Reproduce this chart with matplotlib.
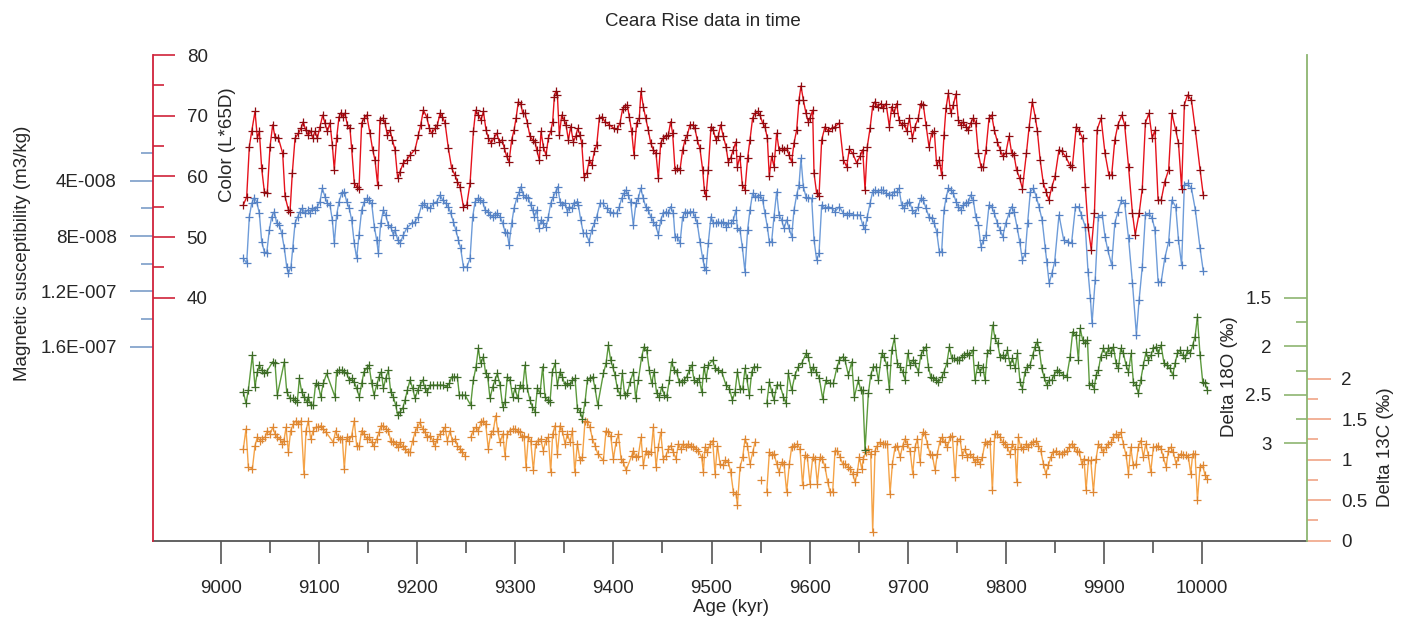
import numpy as np
import matplotlib
matplotlib.use("Agg")
import matplotlib.pyplot as plt

plt.rcParams['font.family'] = ['Liberation Sans', 'DejaVu Sans']

# ---------------- data ----------------
color_age = [9022.8, 9026.2, 9028.9, 9031.3, 9034.7, 9037.1, 9039.1, 9041.5, 9044.2, 9047.2,
             9050.0, 9052.7, 9055.1, 9058.5, 9062.9, 9065.3, 9068.7, 9070.4, 9072.7, 9075.5,
             9078.9, 9081.6, 9083.9, 9086.3, 9089.0, 9091.4, 9093.5, 9095.8, 9098.2, 9100.9,
             9103.7, 9106.0, 9108.4, 9111.1, 9113.5, 9115.5, 9117.9, 9120.3, 9122.3, 9124.7,
             9126.4, 9128.8, 9131.5, 9133.2, 9135.9, 9138.3, 9140.7, 9143.4, 9146.1, 9148.5,
             9151.9, 9154.6, 9157.0, 9159.7, 9162.1, 9164.8, 9167.2, 9169.6, 9172.3, 9174.7,
             9177.4, 9180.1, 9182.5, 9185.9, 9189.3, 9192.7, 9197.8, 9201.2, 9203.6, 9206.3,
             9209.7, 9212.4, 9214.8, 9218.2, 9220.6, 9223.3, 9225.7, 9228.4, 9231.8, 9235.2,
             9238.6, 9241.0, 9243.7, 9247.1, 9250.5, 9253.9, 9257.3, 9259.6, 9262.4, 9265.1,
             9267.5, 9270.2, 9272.6, 9275.3, 9278.3, 9281.0, 9283.8, 9286.5, 9288.9, 9291.2,
             9293.6, 9296.3, 9298.7, 9300.8, 9303.1, 9305.5, 9307.6, 9309.9, 9312.3, 9315.0,
             9317.7, 9320.1, 9321.8, 9324.5, 9326.2, 9328.6, 9331.3, 9333.7, 9336.1, 9338.1,
             9339.8, 9341.2, 9342.9, 9344.9, 9347.3, 9349.7, 9351.7, 9354.1, 9356.5, 9359.2,
             9361.6, 9363.6, 9366.0, 9367.7, 9370.1, 9372.8, 9375.5, 9377.9, 9380.6, 9383.0,
             9385.7, 9388.1, 9391.5, 9395.9, 9400.6, 9404.0, 9406.7, 9409.4, 9411.8, 9414.2,
             9416.2, 9418.6, 9421.0, 9423.7, 9426.4, 9428.1, 9430.5, 9432.9, 9435.6, 9438.0,
             9440.7, 9443.4, 9445.8, 9448.2, 9450.9, 9453.6, 9456.0, 9458.3, 9460.4, 9462.8,
             9465.1, 9467.9, 9470.6, 9473.0, 9475.3, 9478.1, 9480.8, 9483.1, 9485.5, 9488.2,
             9491.0, 9492.7, 9494.4, 9496.7, 9499.5, 9501.8, 9504.6, 9506.9, 9509.3, 9512.0,
             9514.8, 9517.1, 9519.5, 9522.2, 9524.9, 9526.3, 9529.0, 9531.4, 9534.1, 9536.8,
             9539.2, 9541.9, 9544.3, 9547.0, 9549.4, 9552.1, 9554.5, 9556.9, 9558.9, 9561.3,
             9563.7, 9566.4, 9568.8, 9571.5, 9573.9, 9576.6, 9579.0, 9581.7, 9584.1, 9586.8,
             9589.2, 9591.2, 9593.6, 9596.3, 9598.7, 9600.4, 9603.1, 9604.5, 9607.2, 9609.6,
             9612.3, 9615.7, 9619.1, 9622.5, 9625.9, 9630.3, 9634.4, 9637.8, 9640.5, 9643.9,
             9648.0, 9651.4, 9654.1, 9656.5, 9658.8, 9661.6, 9664.3, 9666.7, 9669.4, 9672.4,
             9675.2, 9677.9, 9681.3, 9683.7, 9686.0, 9688.7, 9691.1, 9693.8, 9696.6, 9698.9,
             9701.7, 9704.7, 9707.4, 9710.8, 9713.2, 9715.9, 9718.6, 9721.7, 9724.4, 9727.1,
             9729.5, 9732.2, 9734.6, 9737.0, 9739.0, 9741.4, 9743.8, 9746.5, 9749.2, 9751.6,
             9754.0, 9756.7, 9759.4, 9761.8, 9764.2, 9766.9, 9769.3, 9772.0, 9774.7, 9777.1,
             9779.8, 9782.9, 9785.6, 9788.3, 9791.4, 9794.1, 9796.8, 9799.9, 9803.3, 9806.0,
             9808.4, 9810.9, 9814.1, 9816.9, 9821.0, 9823.8, 9827.0, 9830.2, 9832.2, 9835.0,
             9838.2, 9841.0, 9843.8, 9847.0, 9850.2, 9854.2, 9857.0, 9861.0, 9865.0, 9867.8,
             9871.8, 9875.0, 9878.2, 9881.0, 9883.8, 9887.1, 9890.3, 9893.1, 9897.1, 9901.1,
             9905.1, 9907.9, 9911.1, 9914.3, 9918.3, 9921.1, 9925.1, 9929.1, 9931.9, 9935.9,
             9939.1, 9942.3, 9945.9, 9949.2, 9952.0, 9955.2, 9958.4, 9962.0, 9966.0, 9969.2,
             9973.2, 9976.0, 9979.2, 9982.0, 9985.2, 9989.2, 9993.2, 9998.0, 10001.2]
color_L = [55.3, 56.6, 64.9, 67.4, 70.7, 66.3, 67.4, 61.3, 57.5, 57.3,
           64.9, 68.5, 66.5, 66.3, 63.8, 56.7, 54.5, 54.2, 60.5, 66.3,
           67.1, 67.9, 69.0, 67.6, 66.8, 67.4, 66.3, 67.4, 66.3, 68.2,
           70.1, 68.8, 67.4, 68.8, 65.2, 61.1, 66.3, 69.8, 70.5, 69.8,
           70.4, 68.5, 67.9, 64.6, 58.9, 58.3, 58.0, 68.8, 69.6, 70.1,
           67.1, 64.4, 62.7, 58.6, 69.3, 69.6, 68.8, 66.8, 67.6, 66.0,
           64.4, 59.7, 60.8, 62.2, 62.7, 63.5, 64.4, 66.8, 68.5, 70.9,
           69.8, 67.9, 67.1, 67.9, 68.5, 70.4, 69.8, 68.8, 64.6, 61.3,
           60.2, 59.1, 58.3, 55.0, 55.3, 58.9, 67.4, 70.9, 70.1, 69.3,
           70.7, 67.6, 66.3, 65.5, 66.3, 67.1, 65.7, 66.0, 64.6, 63.3,
           62.4, 66.0, 67.6, 69.6, 72.3, 72.0, 70.4, 70.4, 68.8, 66.6,
           66.0, 65.7, 64.4, 62.7, 67.4, 64.9, 63.5, 66.3, 67.4, 69.0,
           73.1, 74.0, 73.4, 66.8, 70.1, 69.3, 68.5, 66.0, 68.2, 65.7,
           66.6, 67.9, 66.8, 65.5, 59.9, 60.5, 62.7, 61.9, 64.1, 65.2,
           69.6, 69.8, 69.0, 68.5, 67.9, 67.8, 68.8, 71.1, 71.5, 71.8,
           69.8, 67.4, 63.5, 68.8, 69.6, 74.0, 71.5, 69.6, 67.6, 65.5,
           64.4, 63.8, 59.7, 65.5, 66.3, 66.6, 66.8, 69.0, 67.1, 61.1,
           61.3, 61.1, 64.4, 66.0, 66.8, 68.5, 68.5, 67.9, 66.0, 64.6,
           61.1, 57.8, 56.7, 61.1, 68.2, 67.6, 66.0, 66.6, 68.5, 66.6,
           64.9, 62.4, 63.0, 64.4, 65.7, 61.6, 63.3, 58.6, 57.8, 63.0,
           66.0, 69.6, 70.4, 70.7, 70.1, 68.8, 68.2, 66.3, 60.0, 63.3,
           61.6, 67.1, 64.4, 64.6, 64.4, 64.6, 63.5, 62.4, 65.5, 67.6,
           72.6, 74.9, 72.6, 70.4, 69.0, 69.6, 70.9, 60.5, 57.2, 56.8,
           66.0, 68.2, 67.4, 67.9, 68.2, 68.8, 62.7, 61.6, 64.5, 63.8,
           62.2, 63.3, 64.4, 57.8, 64.9, 67.9, 71.6, 72.3, 71.5, 72.0,
           71.2, 72.0, 68.2, 71.5, 70.4, 72.0, 69.3, 68.5, 68.8, 67.4,
           69.6, 66.3, 68.2, 69.6, 72.0, 71.8, 68.5, 64.9, 67.1, 67.4,
           61.9, 62.7, 60.2, 66.8, 71.2, 73.7, 70.4, 71.8, 73.6, 69.3,
           68.5, 69.0, 68.2, 67.6, 68.8, 69.6, 68.8, 63.8, 61.6, 61.6,
           64.4, 69.6, 70.1, 67.6, 65.7, 64.4, 63.3, 63.8, 66.6, 63.8,
           63.5, 61.1, 59.7, 58.0, 63.8, 68.2, 72.3, 69.6, 67.4, 62.7,
           58.9, 57.5, 56.1, 58.3, 60.0, 64.4, 64.1, 63.3, 61.9, 61.6,
           68.2, 67.4, 66.3, 58.3, 51.7, 47.9, 53.9, 67.7, 69.6, 63.8,
           60.2, 60.2, 66.0, 68.5, 70.1, 68.5, 61.6, 53.9, 50.4, 53.9,
           58.0, 68.8, 70.4, 66.3, 67.6, 56.1, 56.1, 59.1, 61.1, 70.4,
           67.6, 65.5, 58.0, 71.8, 73.4, 72.6, 67.6, 61.1, 57.0]

magsus_age = [9022.8, 9026.2, 9028.9, 9031.3, 9034.0, 9036.4, 9039.1, 9041.5, 9044.2, 9046.6,
              9049.3, 9051.7, 9054.4, 9056.8, 9059.5, 9061.9, 9064.6, 9067.0, 9068.7, 9071.4,
              9073.1, 9075.5, 9078.2, 9080.5, 9082.9, 9085.6, 9088.4, 9090.7, 9093.1, 9095.8,
              9098.2, 9100.9, 9103.3, 9106.0, 9108.4, 9111.1, 9113.5, 9115.5, 9117.9, 9120.3,
              9123.0, 9125.7, 9128.1, 9130.8, 9133.2, 9135.9, 9138.3, 9140.7, 9143.4, 9146.1,
              9148.5, 9151.2, 9153.6, 9156.3, 9158.7, 9160.4, 9162.8, 9165.5, 9167.9, 9170.6,
              9173.0, 9175.7, 9177.4, 9180.1, 9182.5, 9185.9, 9189.3, 9194.4, 9197.8, 9201.2,
              9204.6, 9207.0, 9209.7, 9213.1, 9216.5, 9219.9, 9223.3, 9226.0, 9229.1, 9231.8,
              9234.2, 9236.9, 9239.3, 9242.0, 9244.3, 9247.1, 9250.5, 9253.9, 9256.6, 9259.0,
              9261.7, 9264.1, 9266.8, 9269.2, 9271.9, 9274.3, 9277.0, 9279.3, 9281.7, 9284.4,
              9287.2, 9289.5, 9291.9, 9293.6, 9296.3, 9298.7, 9301.4, 9304.2, 9305.9, 9308.2,
              9311.0, 9313.3, 9315.7, 9317.7, 9319.4, 9321.8, 9323.9, 9326.2, 9328.6, 9331.3,
              9333.7, 9336.1, 9338.8, 9341.2, 9343.2, 9345.6, 9348.0, 9350.7, 9353.1, 9355.1,
              9357.5, 9359.9, 9362.6, 9364.3, 9366.7, 9369.4, 9372.1, 9375.2, 9377.9, 9380.6,
              9383.0, 9386.4, 9389.1, 9393.2, 9396.6, 9399.9, 9403.3, 9406.0, 9408.4, 9410.8,
              9412.8, 9415.2, 9417.6, 9420.3, 9423.0, 9425.4, 9427.8, 9430.5, 9432.9, 9435.6,
              9438.0, 9440.7, 9443.1, 9445.8, 9448.2, 9450.9, 9453.6, 9456.0, 9458.3, 9461.1,
              9462.8, 9465.1, 9467.9, 9470.6, 9473.0, 9475.3, 9478.1, 9480.8, 9483.1, 9485.5,
              9488.2, 9491.0, 9492.7, 9494.4, 9496.7, 9499.5, 9501.8, 9504.6, 9506.9, 9509.3,
              9512.0, 9514.8, 9517.1, 9519.5, 9522.2, 9524.9, 9526.3, 9529.0, 9531.4, 9534.1,
              9536.8, 9539.2, 9541.9, 9544.3, 9547.0, 9549.4, 9552.1, 9554.5, 9556.9, 9558.9,
              9561.3, 9563.7, 9566.4, 9568.8, 9571.5, 9573.9, 9576.6, 9579.0, 9581.7, 9584.1,
              9586.8, 9589.2, 9591.2, 9593.6, 9596.3, 9598.7, 9602.1, 9604.5, 9607.2, 9609.6,
              9612.3, 9615.7, 9619.1, 9622.5, 9625.9, 9630.3, 9634.4, 9637.8, 9640.5, 9643.9,
              9648.0, 9651.4, 9654.1, 9656.5, 9658.8, 9661.6, 9664.3, 9666.7, 9669.4, 9672.4,
              9675.2, 9677.9, 9681.3, 9683.7, 9686.0, 9688.7, 9691.1, 9693.8, 9696.6, 9698.9,
              9701.7, 9704.7, 9707.4, 9710.8, 9713.2, 9715.9, 9718.6, 9721.7, 9724.4, 9727.1,
              9729.5, 9732.2, 9734.6, 9737.0, 9739.0, 9741.4, 9743.8, 9746.5, 9749.2, 9751.6,
              9754.0, 9756.7, 9759.4, 9761.8, 9764.2, 9766.9, 9769.3, 9772.0, 9774.7, 9777.1,
              9779.8, 9782.9, 9785.6, 9788.3, 9791.4, 9794.1, 9796.8, 9799.9, 9803.3, 9806.0,
              9808.4, 9811.7, 9814.1, 9816.9, 9819.8, 9822.2, 9825.0, 9828.2, 9831.0, 9833.8,
              9837.0, 9840.2, 9841.8, 9844.2, 9847.0, 9849.8, 9854.2, 9859.0, 9863.0, 9867.0,
              9871.0, 9874.2, 9877.0, 9881.0, 9883.8, 9886.2, 9887.9, 9891.1, 9894.3, 9898.3,
              9901.1, 9903.9, 9907.9, 9911.1, 9914.3, 9917.9, 9921.1, 9925.1, 9929.1, 9933.1,
              9935.9, 9939.1, 9942.3, 9945.9, 9949.2, 9952.0, 9955.2, 9958.4, 9962.0, 9966.0,
              9969.2, 9973.2, 9976.0, 9979.2, 9982.0, 9985.2, 9989.2, 9993.2, 9998.0, 10001.2]
# magnetic susceptibility in units of 1e-8 m3/kg
magsus_e8 = [9.61, 9.97, 6.60, 5.64, 5.23, 5.52, 6.36, 8.41, 9.13, 9.25,
             7.56, 6.60, 6.24, 7.08, 7.20, 7.80, 8.89, 10.21, 10.69, 10.21,
             8.89, 7.08, 6.60, 6.24, 6.00, 6.36, 6.12, 6.36, 6.00, 6.12,
             5.88, 5.52, 4.55, 5.16, 5.64, 5.76, 6.84, 8.53, 6.48, 5.52,
             4.92, 4.80, 5.52, 6.00, 6.84, 8.53, 9.61, 7.92, 6.12, 5.52,
             5.28, 5.40, 5.64, 7.32, 8.29, 9.25, 7.08, 6.12, 6.48, 7.20,
             7.32, 7.92, 7.56, 8.29, 8.53, 7.92, 7.44, 7.08, 6.96, 6.60,
             5.76, 5.64, 5.88, 6.00, 5.64, 5.52, 5.04, 5.40, 5.64, 5.88,
             6.36, 6.96, 7.56, 8.29, 8.89, 10.21, 10.26, 9.61, 6.60, 5.52,
             5.28, 5.40, 5.52, 6.12, 6.24, 6.48, 6.60, 6.48, 6.36, 6.60,
             7.08, 7.68, 7.80, 8.65, 7.08, 6.00, 5.28, 4.80, 4.43, 5.04,
             5.16, 5.28, 5.76, 6.12, 6.60, 6.12, 7.44, 6.84, 7.08, 7.32,
             6.60, 5.64, 5.16, 4.80, 4.43, 5.52, 5.76, 5.64, 6.24, 5.88,
             6.00, 5.64, 5.52, 5.76, 6.84, 7.80, 7.80, 8.41, 7.56, 7.08,
             6.60, 5.64, 5.64, 6.00, 6.24, 6.36, 6.36, 5.88, 5.28, 4.92,
             4.68, 5.04, 5.52, 7.20, 5.64, 5.28, 4.55, 5.28, 5.88, 6.12,
             6.60, 6.96, 7.20, 7.92, 6.84, 6.36, 6.24, 6.36, 5.88, 6.36,
             8.04, 8.04, 8.53, 6.60, 6.24, 6.36, 6.24, 6.24, 6.60, 7.08,
             8.41, 9.61, 10.21, 10.45, 8.53, 6.60, 7.08, 7.08, 6.96, 7.08,
             6.96, 7.32, 7.08, 7.08, 6.84, 6.12, 7.44, 7.56, 8.77, 10.57,
             7.56, 6.12, 4.92, 5.16, 5.16, 5.04, 5.40, 6.36, 7.32, 8.41,
             8.41, 6.60, 4.80, 6.48, 6.84, 7.44, 6.84, 7.44, 8.04, 6.12,
             5.04, 4.31, 2.39, 4.43, 5.16, 5.28, 5.28, 8.29, 9.73, 9.25,
             5.76, 6.00, 5.88, 6.00, 6.24, 5.88, 6.36, 6.48, 6.36, 6.48,
             6.48, 6.48, 7.20, 7.51, 6.60, 5.64, 4.80, 4.68, 4.80, 4.68,
             4.68, 4.92, 5.04, 5.04, 4.80, 4.80, 4.55, 5.76, 6.00, 5.64,
             5.52, 6.12, 6.36, 5.88, 5.28, 5.40, 6.00, 6.60, 6.72, 7.08,
             7.68, 9.13, 9.13, 6.12, 5.28, 4.55, 4.68, 4.92, 5.52, 5.88,
             6.12, 5.76, 5.64, 5.52, 5.04, 5.40, 6.60, 7.20, 8.77, 8.29,
             7.92, 5.76, 5.88, 6.36, 7.08, 7.56, 8.04, 7.08, 6.36, 5.88,
             6.24, 7.44, 8.40, 9.73, 9.25, 7.08, 4.79, 4.55, 5.15, 5.88,
             6.84, 8.88, 9.85, 11.41, 10.69, 9.85, 6.48, 8.28, 8.40, 8.52,
             5.88, 5.88, 6.48, 7.32, 10.57, 12.49, 14.30, 11.17, 6.60, 6.48,
             8.04, 9.00, 10.09, 7.08, 6.24, 5.40, 5.64, 8.16, 11.41, 15.14,
             12.61, 10.21, 6.48, 6.36, 6.72, 7.56, 11.29, 11.29, 9.61, 8.40,
             5.40, 5.88, 8.28, 10.09, 4.31, 4.19, 4.55, 6.12, 8.88, 10.50]

d18O_age = [9022.8, 9025.5, 9027.9, 9032.0, 9034.7, 9037.1, 9039.1, 9041.5, 9043.9, 9046.6,
            9052.7, 9055.1, 9057.4, 9064.6, 9067.0, 9070.4, 9073.1, 9075.5, 9077.8, 9079.9,
            9082.3, 9084.6, 9087.3, 9089.0, 9091.4, 9094.1, 9096.5, 9099.2, 9101.6, 9104.3,
            9107.7, 9116.2, 9117.9, 9120.6, 9123.0, 9125.7, 9128.1, 9130.8, 9133.2, 9135.6,
            9138.3, 9141.0, 9143.4, 9145.8, 9148.5, 9150.9, 9153.6, 9156.0, 9158.7, 9161.1,
            9163.5, 9165.5, 9167.9, 9170.6, 9173.0, 9175.7, 9178.1, 9180.1, 9182.5, 9185.2,
            9187.6, 9190.0, 9192.7, 9195.4, 9197.8, 9200.5, 9202.9, 9205.6, 9208.0, 9210.4,
            9213.1, 9216.5, 9219.9, 9223.3, 9226.7, 9230.1, 9232.8, 9235.2, 9237.9, 9240.9,
            9243.0, 9245.4, 9248.8, 9254.5, 9257.2, 9260.0, 9262.3, 9264.7, 9267.4, 9269.8,
            9271.9, 9274.2, 9277.0, 9279.3, 9281.7, 9284.4, 9287.2, 9289.5, 9291.9, 9294.6,
            9297.3, 9299.7, 9302.4, 9304.8, 9307.5, 9309.9, 9312.3, 9315.0, 9317.4, 9320.1,
            9322.5, 9325.2, 9327.9, 9330.3, 9333.0, 9335.4, 9337.8, 9340.5, 9342.9, 9345.6,
            9348.0, 9350.7, 9353.1, 9355.8, 9358.2, 9360.9, 9363.3, 9366.0, 9368.4, 9371.1,
            9373.5, 9376.2, 9378.9, 9381.3, 9384.0, 9389.8, 9392.5, 9394.9, 9397.2, 9399.3,
            9401.7, 9404.0, 9406.8, 9409.1, 9411.5, 9414.2, 9417.0, 9420.4, 9422.7, 9425.4,
            9428.8, 9431.2, 9433.9, 9436.6, 9439.0, 9441.4, 9444.1, 9446.9, 9449.2, 9451.9,
            9454.3, 9457.1, 9459.4, 9461.8, 9464.5, 9466.9, 9469.6, 9472.3, 9474.7, 9477.4,
            9479.8, 9482.2, 9484.9, 9487.3, 9490.0, 9492.4, 9494.4, 9496.8, 9501.2, 9503.6,
            9507.0, 9510.4, 9514.8, 9518.2, 9521.3, 9524.0, 9526.4, 9529.1, 9531.8, 9534.2,
            9535.9, 9538.6, 9541.0, 9543.3, 9546.1, 9548.3, 9550.5, 9553.4, 9556.3, 9559.0,
            9561.4, 9563.7, 9566.5, 9569.9, 9573.3, 9576.0, 9578.3, 9581.7, 9585.1, 9588.5,
            9591.9, 9596.4, 9598.7, 9601.5, 9603.8, 9606.5, 9609.9, 9613.3, 9616.7, 9620.8,
            9624.2, 9627.6, 9630.3, 9633.7, 9636.1, 9639.5, 9642.9, 9645.6, 9649.7, 9652.1,
            9654.1, 9656.5, 9659.9, 9662.3, 9665.0, 9667.7, 9670.1, 9673.5, 9675.9, 9678.6,
            9681.3, 9683.7, 9686.4, 9689.5, 9692.2, 9694.9, 9697.3, 9700.0, 9702.4, 9705.1,
            9707.5, 9710.9, 9713.3, 9716.0, 9718.7, 9721.1, 9723.5, 9726.2, 9728.9, 9731.3,
            9734.7, 9737.0, 9739.8, 9742.5, 9744.9, 9747.2, 9750.0, 9752.7, 9755.0, 9757.8,
            9760.1, 9762.9, 9766.3, 9768.6, 9771.4, 9773.7, 9776.5, 9778.8, 9781.2, 9783.9,
            9786.6, 9789.0, 9791.7, 9794.1, 9796.8, 9799.2, 9801.6, 9804.3, 9806.7, 9809.4,
            9811.8, 9814.5, 9816.9, 9819.6, 9822.0, 9824.7, 9827.4, 9829.8, 9832.2, 9834.2,
            9836.6, 9839.0, 9841.7, 9844.4, 9846.8, 9849.2, 9851.9, 9854.6, 9858.7, 9862.1,
            9865.5, 9868.2, 9871.6, 9874.0, 9875.7, 9878.4, 9880.8, 9883.2, 9885.2, 9887.6,
            9890.0, 9892.0, 9894.4, 9896.7, 9899.5, 9902.2, 9904.6, 9907.3, 9909.7, 9912.4,
            9914.8, 9917.1, 9919.9, 9922.6, 9925.0, 9927.7, 9930.0, 9932.8, 9935.1, 9937.5,
            9940.2, 9943.0, 9945.3, 9948.0, 9950.4, 9953.2, 9955.5, 9958.2, 9961.3, 9964.0,
            9967.4, 9970.1, 9972.5, 9974.9, 9977.6, 9980.3, 9982.7, 9985.1, 9987.8, 9990.5,
            9992.9, 9995.3, 9998.0, 10000.7, 10003.1, 10005.5]
d18O = [2.469, 2.589, 2.451, 2.091, 2.417, 2.262, 2.194, 2.245, 2.280, 2.262,
        2.159, 2.177, 2.503, 2.159, 2.469, 2.537, 2.537, 2.555, 2.572, 2.331,
        2.469, 2.520, 2.572, 2.520, 2.606, 2.606, 2.383, 2.400, 2.520, 2.383,
        2.280, 2.520, 2.262, 2.245, 2.245, 2.262, 2.280, 2.348, 2.331, 2.366,
        2.434, 2.520, 2.383, 2.262, 2.228, 2.194, 2.383, 2.503, 2.400, 2.314,
        2.262, 2.434, 2.331, 2.245, 2.469, 2.520, 2.606, 2.709, 2.675, 2.640,
        2.555, 2.451, 2.348, 2.434, 2.537, 2.451, 2.400, 2.348, 2.434, 2.469,
        2.400, 2.400, 2.400, 2.400, 2.400, 2.417, 2.383, 2.314, 2.314, 2.314,
        2.503, 2.503, 2.503, 2.606, 2.348, 2.211, 2.022, 2.177, 2.108, 2.280,
        2.314, 2.537, 2.417, 2.348, 2.280, 2.400, 2.623, 2.572, 2.314, 2.348,
        2.520, 2.434, 2.537, 2.400, 2.434, 2.194, 2.434, 2.555, 2.623, 2.675,
        2.434, 2.486, 2.211, 2.520, 2.555, 2.572, 2.262, 2.177, 2.400, 2.262,
        2.314, 2.400, 2.383, 2.400, 2.348, 2.331, 2.640, 2.675, 2.744, 2.572,
        2.348, 2.331, 2.314, 2.434, 2.606, 2.280, 2.177, 1.988, 2.142, 2.211,
        2.297, 2.434, 2.503, 2.280, 2.503, 2.486, 2.366, 2.262, 2.537, 2.348,
        2.108, 2.005, 2.039, 2.245, 2.383, 2.262, 2.486, 2.520, 2.417, 2.503,
        2.520, 2.348, 2.159, 2.245, 2.262, 2.366, 2.366, 2.348, 2.314, 2.245,
        2.194, 2.348, 2.366, 2.331, 2.469, 2.211, 2.331, 2.194, 2.142, 2.228,
        2.246, 2.263, 2.400, 2.435, 2.555, 2.469, 2.263, 2.435, 2.435, 2.228,
        2.331, 2.503, 2.263, 2.211, 2.211, np.nan, 2.441, np.nan, 2.589, 2.366,
        2.469, 2.555, 2.400, 2.400, 2.520, 2.589, 2.280, 2.452, 2.297, 2.211,
        2.177, 2.074, 2.108, 2.263, 2.211, 2.263, 2.331, 2.538, 2.349, 2.383,
        2.383, 2.228, 2.142, 2.108, 2.142, 2.297, 2.160, 2.520, 2.349, 2.452,
        2.452, 3.070, 2.486, 2.297, 2.211, 2.211, 2.349, 2.074, 2.108, 2.194,
        2.435, 2.039, 1.919, 2.177, 2.211, 2.263, 2.349, 2.074, 2.194, 2.142,
        2.177, 2.263, 2.091, 2.039, 2.005, 2.211, 2.314, 2.331, 2.349, 2.366,
        2.314, 2.263, 2.177, 2.005, 2.125, 2.125, 2.142, 2.142, 2.108, 2.091,
        2.074, 2.091, 2.039, 2.349, 2.194, 2.263, 2.211, 2.349, 2.074, 2.039,
        1.782, 1.919, 1.971, 2.108, 2.091, 2.125, 2.039, 2.194, 2.125, 2.228,
        2.074, 2.366, 2.435, 2.263, 2.211, 2.194, 2.091, 2.005, 1.954, 2.039,
        2.228, 2.314, 2.400, 2.349, 2.349, 2.297, 2.246, 2.263, 2.297, 2.314,
        2.108, 1.850, 1.885, 2.142, 1.816, 1.936, 1.971, 1.936, 2.400, 2.383,
        2.435, 2.297, 2.246, 2.108, 2.022, 2.091, 2.022, 2.074, 2.005, 2.177,
        2.228, 2.022, 2.074, 2.194, 2.263, 2.074, 2.366, 2.400, 2.486, 2.349,
        2.194, 2.057, 2.142, 2.091, 2.022, 2.005, 2.074, 1.988, 2.177, 2.194,
        2.228, 2.297, 2.177, 2.074, 2.039, 2.091, 2.125, 2.039, 2.074, 1.988,
        1.902, 1.696, 2.091, 2.366, 2.383, 2.452]

d13C_age = [9022.8, 9025.5, 9027.9, 9032.0, 9034.7, 9037.1, 9039.8, 9042.2, 9044.9, 9047.3,
            9050.0, 9052.7, 9055.1, 9057.4, 9060.2, 9062.5, 9064.2, 9066.3, 9068.7, 9071.0,
            9073.8, 9076.5, 9078.9, 9081.6, 9084.6, 9086.7, 9089.0, 9091.4, 9094.1, 9096.5,
            9099.2, 9101.6, 9104.3, 9107.1, 9114.5, 9116.9, 9119.0, 9121.3, 9123.7, 9125.7,
            9128.1, 9130.8, 9133.2, 9135.9, 9138.3, 9141.0, 9143.4, 9145.8, 9148.5, 9150.9,
            9153.6, 9156.0, 9158.7, 9161.1, 9163.5, 9165.5, 9167.9, 9170.6, 9173.0, 9175.7,
            9178.1, 9180.8, 9182.5, 9185.2, 9187.6, 9190.3, 9192.7, 9195.4, 9197.8, 9200.2,
            9202.9, 9205.6, 9208.0, 9210.4, 9213.1, 9215.8, 9218.2, 9220.5, 9223.3, 9226.0,
            9228.4, 9230.7, 9233.5, 9235.8, 9238.6, 9240.9, 9243.7, 9246.0, 9248.8, 9251.5,
            9254.5, 9257.2, 9260.0, 9262.3, 9265.1, 9267.4, 9269.8, 9272.5, 9274.9, 9277.6,
            9280.0, 9282.1, 9284.4, 9287.2, 9289.5, 9291.9, 9294.6, 9297.3, 9299.7, 9302.4,
            9304.8, 9306.5, 9308.9, 9310.9, 9313.3, 9315.7, 9318.4, 9320.8, 9323.5, 9325.9,
            9328.6, 9331.0, 9333.7, 9336.1, 9338.1, 9340.5, 9342.9, 9345.6, 9348.0, 9350.7,
            9353.1, 9355.8, 9358.2, 9360.6, 9363.3, 9366.0, 9368.4, 9371.1, 9373.5, 9376.2,
            9378.6, 9381.3, 9384.0, 9389.8, 9392.5, 9394.9, 9397.2, 9400.0, 9402.7, 9405.1,
            9407.8, 9410.2, 9412.9, 9418.7, 9420.4, 9423.1, 9425.4, 9428.2, 9430.5, 9433.3,
            9435.6, 9438.4, 9440.7, 9443.5, 9445.8, 9448.2, 9450.9, 9453.6, 9456.0, 9458.4,
            9461.1, 9463.8, 9466.2, 9468.6, 9471.3, 9474.0, 9476.4, 9478.8, 9481.5, 9483.9,
            9486.3, 9490.0, 9491.7, 9493.4, 9495.8, 9498.5, 9501.2, 9503.6, 9506.0, 9508.7,
            9511.4, 9513.8, 9517.2, 9519.6, 9522.3, 9525.0, 9526.4, 9529.1, 9531.8, 9534.2,
            9536.6, 9539.3, 9542.0, 9544.4, 9547.5, 9550.5, 9553.4, 9556.3, 9559.0, 9561.4,
            9563.7, 9566.5, 9568.8, 9571.6, 9573.9, 9576.6, 9579.4, 9581.7, 9584.5, 9587.5,
            9590.2, 9592.9, 9595.3, 9597.7, 9600.4, 9603.2, 9605.5, 9607.9, 9610.6, 9613.0,
            9615.7, 9618.4, 9620.8, 9623.5, 9625.9, 9628.3, 9631.0, 9633.7, 9636.1, 9638.8,
            9641.2, 9643.9, 9646.3, 9648.7, 9650.7, 9653.1, 9654.8, 9657.2, 9659.9, 9662.3,
            9664.3, 9666.7, 9669.1, 9671.8, 9674.5, 9676.9, 9679.3, 9682.0, 9684.4, 9687.1,
            9689.5, 9692.2, 9694.9, 9697.3, 9699.7, 9702.4, 9705.1, 9707.5, 9709.8, 9712.6,
            9715.3, 9717.7, 9720.0, 9722.8, 9725.1, 9727.9, 9730.2, 9733.0, 9735.3, 9738.1,
            9740.4, 9743.2, 9745.5, 9748.3, 9750.6, 9753.3, 9755.7, 9758.4, 9760.8, 9763.5,
            9766.3, 9768.6, 9771.0, 9773.7, 9776.1, 9778.8, 9781.2, 9783.9, 9786.3, 9788.7,
            9791.4, 9794.1, 9796.8, 9799.2, 9801.6, 9804.3, 9806.7, 9809.4, 9811.1, 9812.8,
            9815.2, 9817.9, 9820.6, 9823.0, 9825.4, 9828.1, 9830.8, 9833.2, 9835.6, 9838.3,
            9840.7, 9843.4, 9845.8, 9848.5, 9851.2, 9853.9, 9857.0, 9859.7, 9862.1, 9864.8,
            9867.2, 9869.6, 9872.3, 9875.0, 9877.4, 9879.7, 9881.8, 9884.2, 9886.6, 9889.3,
            9892.0, 9894.4, 9896.7, 9899.5, 9902.2, 9904.6, 9907.3, 9909.7, 9912.4, 9914.8,
            9917.1, 9919.9, 9922.6, 9925.0, 9927.3, 9930.0, 9932.8, 9935.1, 9937.5, 9940.2,
            9942.6, 9945.3, 9947.7, 9950.4, 9952.8, 9955.5, 9958.2, 9960.6, 9963.4, 9965.7,
            9968.1, 9970.8, 9973.5, 9975.9, 9978.3, 9981.0, 9983.7, 9986.1, 9988.5, 9990.5,
            9992.9, 9995.3, 9998.0, 10000.7, 10003.1, 10005.5]
d13C = [1.132, 1.378, 0.907, 0.887, 1.173, 1.276, 1.235, 1.255, 1.276, 1.357,
        1.317, 1.398, 1.317, 1.276, 1.255, 1.194, 1.235, 1.398, 1.091, 1.357,
        1.439, 1.480, 1.439, 1.480, 0.825, 1.357, 1.480, 1.255, 1.357, 1.398,
        1.398, 1.419, 1.378, 1.337, 1.214, 1.357, 1.276, 1.255, 1.255, 0.887,
        1.276, 1.235, 1.296, 1.480, 1.173, 1.173, 1.357, 1.317, 1.255, 1.276,
        1.214, 1.173, 1.255, 1.337, 1.419, 1.419, 1.378, 1.357, 1.235, 1.214,
        1.194, 1.153, 1.214, 1.173, 1.132, 1.091, 1.091, 1.235, 1.337, 1.398,
        1.460, 1.378, 1.337, 1.276, 1.296, 1.235, 1.173, 1.255, 1.317, 1.357,
        1.398, 1.235, 1.357, 1.235, 1.255, 1.173, 1.132, 1.091, 1.050, np.nan,
        1.276, 1.357, 1.398, 1.357, 1.460, 1.480, 1.439, 1.132, 1.317, 1.357,
        1.542, 1.357, 1.214, 1.317, 1.050, 1.317, 1.357, 1.378, 1.378, 1.357,
        1.337, 1.276, 1.296, 0.907, 1.276, 1.235, 0.866, 1.194, 1.235, 1.255,
        1.112, 1.235, 1.276, 0.846, 1.317, 1.419, 1.071, 1.419, 1.357, 1.194,
        1.317, 1.214, 1.357, 0.846, 1.194, 0.989, 1.030, 1.480, 1.460, 1.398,
        1.255, 1.173, 1.071, 0.989, 1.357, 1.337, 1.296, 1.009, 1.214, 1.317,
        1.009, 0.968, 0.866, 1.050, 1.112, 1.030, 1.050, 1.276, 0.928, 1.112,
        1.071, 1.091, 1.398, 0.907, 1.153, 1.337, 1.009, 1.050, 1.132, 1.173,
        1.091, 1.009, 1.194, 1.132, 1.194, 1.153, 1.194, 1.173, 1.153, 1.132,
        1.112, 1.030, 0.846, 1.153, 1.092, 1.194, 1.235, 0.826, 1.174, 0.948,
        0.928, 0.989, 0.969, 0.846, 0.600, 0.580, 0.437, 0.908, 1.030, 1.256,
        1.174, 0.948, 1.092, 1.215, np.nan, 0.744, np.nan, 0.600, 1.092, 1.051,
        1.071, 0.948, 0.846, 0.969, 0.948, 0.600, 0.948, 1.153, 1.174, 1.194,
        1.133, 0.682, 1.051, 1.030, 0.703, 1.030, 1.010, 0.703, 1.030, 1.010,
        0.908, 0.723, 0.600, 0.600, 1.112, 1.112, 1.030, 0.948, 0.948, 0.908,
        0.887, 0.826, 0.723, 0.846, 1.030, 0.887, 1.010, 1.092, 1.133, 1.071,
        0.109, 1.112, 1.174, 1.215, 1.194, 1.194, 1.194, 0.580, 0.948, 1.153,
        1.174, 1.030, 1.174, 1.256, 1.194, 1.112, 0.826, 1.153, 1.256, 0.969,
        1.337, 1.317, 1.194, 1.071, 1.051, 0.867, 1.071, 1.235, 1.276, 1.215,
        1.153, 1.276, 1.297, 0.785, 1.235, 1.256, 1.051, 1.133, 1.030, 1.071,
        1.030, 0.969, 1.010, 0.948, 1.030, 1.215, 1.194, 1.235, 0.621, 1.317,
        1.317, 1.276, 1.215, 1.194, 1.153, 1.071, 1.194, 1.133, 0.723, 1.276,
        1.153, 1.133, 1.194, 1.153, 1.194, 1.215, 1.235, 1.174, 1.112, 0.948,
        0.826, 0.928, 1.030, 1.092, 1.112, 1.071, 1.071, 1.092, 1.112, 1.153,
        1.194, 1.153, 1.112, 1.092, 0.948, 1.010, 0.621, 0.989, 0.989, 0.600,
        1.010, 1.194, 1.153, 1.092, 1.153, 1.194, 1.215, 1.276, 1.317, 1.276,
        1.337, 1.194, 1.051, 0.826, 1.153, 0.928, 0.948, 1.153, 1.235, 1.030,
        1.194, 1.051, 0.846, 1.153, 1.153, 1.174, 1.133, 1.030, 0.908, 1.112,
        1.153, 1.092, 0.948, 1.030, 1.071, 1.051, 1.051, 1.030, 0.826, 1.071,
        1.071, 0.498, 0.908, 0.928, 0.805, 0.764]

age_ticks = [9000, 9100, 9200, 9300, 9400, 9500, 9600, 9700, 9800, 9900, 10000]
age_minor = [9050, 9150, 9250, 9350, 9450, 9550, 9650, 9750, 9850, 9950]
color_ticks = [40, 50, 60, 70, 80]
color_minor = [45, 55, 65, 75]
mag_ticks = [4e-8, 8e-8, 1.2e-7, 1.6e-7]
mag_labels = ['4E-008', '8E-008', '1.2E-007', '1.6E-007']
mag_minor = [2e-8, 6e-8, 1e-7, 1.4e-7]
d18O_ticks = [1.5, 2, 2.5, 3]
d18O_labels = ['1.5', '2', '2.5', '3']
d18O_minor = [1.75, 2.25, 2.75]
d13C_ticks = [0, 0.5, 1, 1.5, 2]
d13C_labels = ['0', '0.5', '1', '1.5', '2']
d13C_minor = [0.25, 0.75, 1.25, 1.75]

# ---------------- styling ----------------
W, H = 1406, 622
FS = 13.5
TXT = '#262626'
RED, RED_MK = '#e6121c', '#8e0b10'
BLUE, BLUE_MK = '#6e9cd9', '#5682c4'
GREEN, GREEN_MK = '#5c9a3d', '#3d6b27'
ORANGE, ORANGE_MK = '#f5a347', '#de8733'
RED_AX = '#d0223a'
BLUE_AX = '#7c9dc8'
GREEN_AX = '#8db571'
ORANGE_AX = '#f0a486'
BASE_AX = '#555555'

fig = plt.figure(figsize=(W / 100, H / 100), dpi=100)
left, right, top, bottom = 152.5, 1307.0, 55.0, 540.5
rect = [left / W, 1 - bottom / H, (right - left) / W, (bottom - top) / H]
XLIM = (8930.2, 10107.0)

def blank(ax):
    ax.set_facecolor('none')
    for s in ax.spines.values():
        s.set_visible(False)
    ax.xaxis.set_visible(False)
    ax.set_xlim(XLIM)

# base axes: age axis
ax0 = fig.add_axes(rect)
ax0.set_facecolor('none')
for s in ['top', 'left', 'right']:
    ax0.spines[s].set_visible(False)
ax0.spines['bottom'].set_color(BASE_AX)
ax0.spines['bottom'].set_linewidth(1.3)
ax0.set_xlim(XLIM)
ax0.set_yticks([])
ax0.set_xticks(age_ticks)
ax0.set_xticklabels([str(t) for t in age_ticks])
ax0.set_xticks(age_minor, minor=True)
ax0.tick_params(axis='x', which='major', direction='out', length=16.3, width=1.2,
                color=BASE_AX, labelsize=FS, labelcolor=TXT, pad=12)
ax0.tick_params(axis='x', which='minor', direction='out', length=8.6, width=1.2, color=BASE_AX)

# magnetic susceptibility (left, ticks outward, inverted)
axm = fig.add_axes(rect)
blank(axm)
axm.set_ylim(3.0e-7, -5.08e-8)
axm.yaxis.tick_left()
axm.set_yticks(mag_ticks)
axm.set_yticklabels(mag_labels)
axm.set_yticks(mag_minor, minor=True)
axm.tick_params(axis='y', which='major', direction='out', length=16.5, width=1.2,
                color=BLUE_AX, labelsize=FS, labelcolor=TXT, pad=9.2)
axm.tick_params(axis='y', which='minor', direction='out', length=8.5, width=1.2, color=BLUE_AX)
axm.plot(magsus_age, np.array(magsus_e8) * 1e-8, color=BLUE, lw=1.0,
         marker='+', ms=5.5, mew=0.9, mec=BLUE_MK)

# colour axis (spine at left, ticks & labels to the right)
axc = fig.add_axes(rect)
blank(axc)
axc.spines['right'].set_visible(True)
axc.spines['right'].set_position(('axes', 0.0))
axc.spines['right'].set_color(RED_AX)
axc.spines['right'].set_linewidth(1.3)
axc.set_ylim(0, 80)
axc.yaxis.tick_right()
axc.set_yticks(color_ticks)
axc.set_yticklabels([str(t) for t in color_ticks])
axc.set_yticks(color_minor, minor=True)
axc.tick_params(axis='y', which='major', direction='out', length=15.8, width=1.2,
                color=RED_AX, labelsize=FS, labelcolor=TXT, pad=8.8)
axc.tick_params(axis='y', which='minor', direction='out', length=8.0, width=1.2, color=RED_AX)
axc.plot(color_age, color_L, color=RED, lw=1.0, marker='+', ms=5.5, mew=0.9, mec=RED_MK)

# d13C (right, ticks outward)
axd = fig.add_axes(rect)
blank(axd)
axd.set_ylim(0, 6)
axd.yaxis.tick_right()
axd.set_yticks(d13C_ticks)
axd.set_yticklabels(d13C_labels)
axd.set_yticks(d13C_minor, minor=True)
axd.tick_params(axis='y', which='major', direction='out', length=17.0, width=1.2,
                color=ORANGE_AX, labelsize=FS, labelcolor=TXT, pad=7.7)
axd.tick_params(axis='y', which='minor', direction='out', length=8.0, width=1.2, color=ORANGE_AX)
axd.plot(d13C_age, d13C, color=ORANGE, lw=1.0, marker='+', ms=5.5, mew=0.9, mec=ORANGE_MK)

# d18O (spine at right, ticks & labels to the left, inverted)
axo = fig.add_axes(rect)
blank(axo)
axo.spines['left'].set_visible(True)
axo.spines['left'].set_position(('axes', 1.0))
axo.spines['left'].set_color(GREEN_AX)
axo.spines['left'].set_linewidth(1.3)
axo.set_ylim(4.0, -1.0)
axo.yaxis.tick_left()
axo.set_yticks(d18O_ticks)
axo.set_yticklabels(d18O_labels)
axo.set_yticks(d18O_minor, minor=True)
axo.tick_params(axis='y', which='major', direction='out', length=16.5, width=1.2,
                color=GREEN_AX, labelsize=FS, labelcolor=TXT, pad=8.9)
axo.tick_params(axis='y', which='minor', direction='out', length=8.0, width=1.2, color=GREEN_AX)
axo.plot(d18O_age, d18O, color=GREEN, lw=1.0, marker='+', ms=5.5, mew=0.9, mec=GREEN_MK)

# titles and axis labels
def ftext(x, y, s, va='center', **kw):
    fig.text(x / W, 1 - y / H, s, color=TXT, fontsize=FS, ha='center', va=va, **kw)

ftext(703, 26.5, 'Ceara Rise data in time', va='baseline')
ftext(731, 607, 'Age (kyr)')
ftext(23, 253, 'Magnetic susceptibility (m3/kg)', rotation=90)
ftext(227, 145, 'Color (L*65D)', rotation=90)
ftext(1229, 377, 'Delta 18O (‰)', rotation=90)
ftext(1386, 447, 'Delta 13C (‰)', rotation=90)

fig.savefig('out.png', dpi=100)
